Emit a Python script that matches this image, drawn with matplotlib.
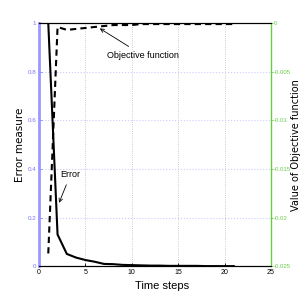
import matplotlib
matplotlib.use('Agg')
from matplotlib import pyplot as plt

# data
steps = list(range(1, 22))
error = [1.0, 0.13, 0.05, 0.035, 0.025, 0.018, 0.009, 0.008, 0.005, 0.004, 0.003,
         0.002, 0.002, 0.001, 0.001, 0.001, 0.001, 0.0, 0.0, 0.0, 0.0]
objective = [-0.0237, -0.0004, -0.0007, -0.0006, -0.0005, -0.0004, -0.0003, -0.0002,
             -0.0002, -0.0002, -0.0001, -0.0001, -0.0001, -0.0001, -0.0001, -0.0001,
             -0.0001, -0.0001, -0.0001, -0.0001, -0.0001]
x_ticks = [0, 5, 10, 15, 20, 25]
left_ticks = [0, 0.2, 0.4, 0.6, 0.8, 1]
left_labels = ['0', '0.2', '0.4', '0.6', '0.8', '1']
right_ticks = [-0.025, -0.02, -0.015, -0.01, -0.005, 0]
right_labels = ['-0.025', '-0.02', '-0.015', '-0.01', '-0.005', '0']

narrow = ['Liberation Sans Narrow', 'Liberation Sans', 'DejaVu Sans']
blue = '#7777ff'
green = '#66cc44'

fig = plt.figure(figsize=(3, 3), dpi=100)
ax = fig.add_axes([0.13, 0.113, 0.773, 0.81])
ax2 = ax.twinx()

ax.plot(steps, error, color='black', lw=1.5)
ax2.plot(steps, objective, color='black', lw=1.5, ls=(0, (3, 2)))

ax.set_xlim(0, 25)
ax.set_ylim(0, 1)
ax2.set_ylim(-0.025, 0)

ax.set_xticks(x_ticks)
ax.set_xticklabels([str(v) for v in x_ticks], family=narrow, fontsize=5)
ax.set_yticks(left_ticks)
ax.set_yticklabels(left_labels, family=narrow, fontsize=4.5, color=blue)
ax2.set_yticks(right_ticks)
ax2.set_yticklabels(right_labels, family=narrow, fontsize=4.3, color=green)

ax.tick_params(axis='both', direction='in', length=2, width=0.6, pad=2)
ax.tick_params(axis='y', colors=blue, labelcolor=blue)
ax2.tick_params(axis='y', direction='out', length=1.5, width=0.6, pad=0.5, colors=green, labelcolor=green)

ax.grid(axis='x', ls=':', color='#bbbbbb', lw=0.6)
ax.grid(axis='y', ls=':', color='#ccccff', lw=0.8)

ax.spines['left'].set_color('#9999ff')
ax.spines['left'].set_linewidth(2)
ax2.spines['left'].set_visible(False)
ax2.spines['right'].set_color(green)
ax2.spines['right'].set_linewidth(1)
for sp in ['top', 'bottom']:
    ax.spines[sp].set_linewidth(0.8)
    ax2.spines[sp].set_linewidth(0.8)
ax.spines['right'].set_visible(False)

ax.set_xlabel('Time steps', family=narrow, fontsize=8)
ax.xaxis.set_label_coords(0.53, -0.06)
ax.set_ylabel('Error measure', fontsize=7.5, fontweight='medium')
ax.yaxis.set_label_coords(-0.06, 0.5)
ax2.set_ylabel('Value of Objective function', fontsize=7, fontweight='medium', rotation=90)
ax2.yaxis.set_label_coords(1.088, 0.5)

ax2.annotate('Objective function', xy=(6.3, -0.0004), xytext=(7.3, -0.0033),
             family=narrow, fontsize=6.5, va='center',
             arrowprops=dict(arrowstyle='->', color='black', lw=0.6))
ax.annotate('Error', xy=(2.05, 0.25), xytext=(2.3, 0.375),
            family=narrow, fontsize=6.5, va='center',
            arrowprops=dict(arrowstyle='->', color='black', lw=0.6))

fig.savefig('out.png', dpi=100, facecolor='white')
